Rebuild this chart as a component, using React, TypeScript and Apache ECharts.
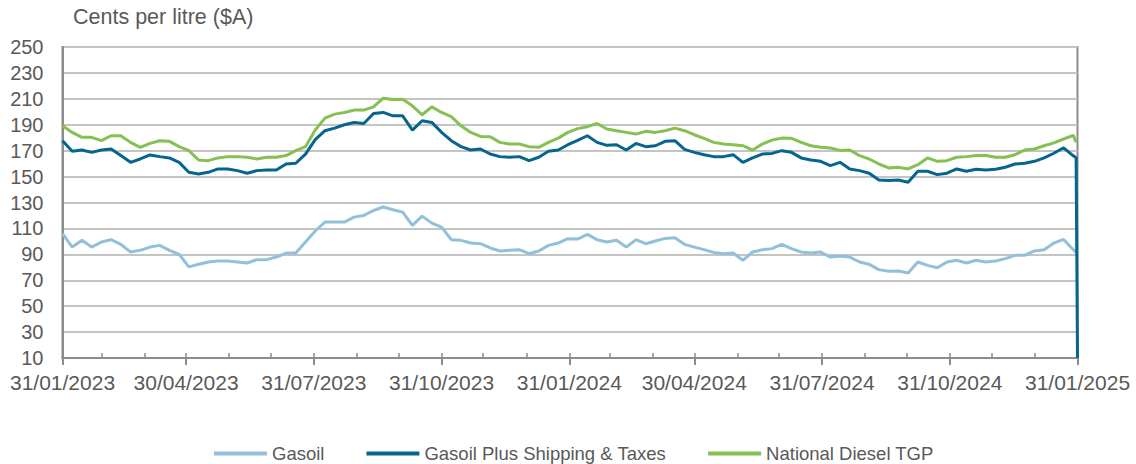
import React, { useEffect, useRef } from "react";
import * as echarts from "echarts";

// Sample dates: weekly from 31/01/2023, plus the last two days of the range
const START_DATE = "2023-01-31";
const weeklyOffsets: number[] = Array.from({ length: 105 }, (_, i) => i * 7);
const sampleDayOffsets: number[] = weeklyOffsets.concat([730, 731]);

const gasoil: (number | null)[] = [
  105.9, 95.6, 100.8, 95.6, 99.5, 101.3, 97.7, 91.8, 93.1, 95.6, 96.9, 93.1, 90, 80.3, 82.3, 84.1, 84.9, 84.9, 84.1, 83.3, 85.9, 85.9, 87.9, 91, 91, 99.5, 108,
  114.9, 114.9, 114.9, 118.7, 120, 123.8, 126.5, 124.4, 122.6, 112.3, 119.5, 114.1, 111, 101.3, 100.8, 98.7, 98.2, 94.9, 92.6, 93.1, 93.6, 90.5, 92.6, 96.9, 98.7, 102.1, 101.8,
  105.4, 101.3, 99.5, 100.8, 95.6, 101.3, 98.2, 100.3, 102.3, 102.8, 97.7, 95.6, 93.6, 91.5, 90.5, 91, 85.4, 91.8, 93.6, 94.4, 97.7, 94.4, 91.8, 91, 91.8, 87.9, 88.8,
  87.9, 84.1, 82.3, 78.2, 76.9, 77.2, 75.6, 84.1, 81.5, 79.7, 84.1, 85.4, 83.3, 85.4, 84.1, 84.9, 86.7, 89.2, 89.2, 92.6, 93.6, 98.7, 101.5, 93.6,
  91.5, null,
];

const gasoilPlus: (number | null)[] = [
  177.7, 169.5, 170.5, 168.7, 170.5, 171.3, 166.2, 161, 163.6, 166.7, 165.4, 164.4, 161, 153.3, 152, 153.3, 155.9, 155.9, 154.6, 152.6, 154.6, 155.1, 155.1, 159.7, 160.3, 167.4, 178.5,
  185.4, 187.4, 190, 191.8, 191, 198.7, 199.5, 196.9, 196.9, 185.9, 193.1, 191.8, 184.1, 177.7, 173.1, 170.5, 171.3, 167.4, 165.4, 164.9, 165.4, 162.3, 164.9, 169.5, 170.5, 174.6, 178,
  181.5, 176.4, 174.1, 174.6, 170.5, 175.6, 173.1, 173.8, 177.2, 177.7, 171, 168.7, 166.9, 165.4, 165.4, 166.9, 161, 164.4, 167.4, 167.9, 170, 168.7, 164.4, 162.8, 161.8, 158.5, 161,
  155.9, 154.6, 152.6, 147.4, 146.9, 147.4, 145.6, 154.1, 154.1, 151.5, 152.6, 155.9, 154.1, 155.6, 155.1, 155.6, 157.2, 159.7, 160.3, 161.8, 164.4, 168, 172.2, 166,
  164.5, 10,
];

const nationalDieselTgp: (number | null)[] = [
  189.2, 184.1, 180.3, 180.3, 177.7, 181.5, 181.5, 176.4, 172.6, 175.6, 177.7, 177.2, 173.1, 170, 162.8, 162.3, 164.4, 165.4, 165.4, 164.9, 163.6, 164.9, 164.9, 166.2, 170, 173.1, 186,
  195.1, 198.2, 199.5, 201.3, 201.3, 203.8, 210.5, 209.5, 209.7, 204.6, 197.7, 203.8, 199.5, 196.2, 189.2, 184.1, 181, 180.8, 176.4, 175.1, 175.1, 173.1, 172.6, 176.4, 179.7, 184.1, 187,
  188.5, 191, 186.7, 185.4, 184.1, 182.8, 184.9, 184.1, 185.4, 187.4, 185.4, 182.3, 179.5, 176.4, 175.1, 174.6, 173.8, 170.5, 175.1, 178.2, 179.7, 179.5, 176.4, 173.8, 172.6, 172.1, 170.2,
  170.5, 166.2, 163.6, 159.7, 156.7, 157.2, 155.9, 159.2, 164.4, 161.8, 162.3, 164.9, 165.4, 166.2, 166.2, 164.9, 164.9, 166.9, 170.5, 171.3, 173.8, 176, 179, 181.8,
  176.5, null,
];

const quarterLabelDates = [
  "2023-01-31", "2023-04-30", "2023-07-31", "2023-10-31", "2024-01-31",
  "2024-04-30", "2024-07-31", "2024-10-31", "2025-01-31",
];

const monthTickDates = [
  "2023-01-31", "2023-02-28", "2023-03-31", "2023-04-30", "2023-05-31", "2023-06-30",
  "2023-07-31", "2023-08-31", "2023-09-30", "2023-10-31", "2023-11-30", "2023-12-31",
  "2024-01-31", "2024-02-29", "2024-03-31", "2024-04-30", "2024-05-31", "2024-06-30",
  "2024-07-31", "2024-08-31", "2024-09-30", "2024-10-31", "2024-11-30", "2024-12-31",
  "2025-01-31",
];

const yTitle = "Cents per litre ($A)";
const seriesNames = ["Gasoil", "Gasoil Plus Shipping & Taxes", "National Diesel TGP"];
const seriesColors = ["#92C0DA", "#05658D", "#86BF52"];

const DAY_MS = 86400000;
const ts = (s: string) => Date.parse(s + "T00:00:00Z");
const START_TS = ts(START_DATE);
const END_TS = ts("2025-01-31");

const fmtDate = (v: number) => {
  const d = new Date(v);
  const dd = String(d.getUTCDate()).padStart(2, "0");
  const mm = String(d.getUTCMonth() + 1).padStart(2, "0");
  return `${dd}/${mm}/${d.getUTCFullYear()}`;
};

const FONT = "'Liberation Sans', Arial, sans-serif";
const TEXT_COLOR = "#595959";
const AXIS_COLOR = "#8C8C8C";

export default function App() {
  const ref = useRef<HTMLDivElement>(null);
  useEffect(() => {
    if (!ref.current) return;
    const chart = echarts.init(ref.current, undefined, { renderer: "svg" });
    const mk = (vals: (number | null)[]) =>
      sampleDayOffsets.map((d, i) => [START_TS + d * DAY_MS, vals[i]]);
    const allSeries = [gasoil, gasoilPlus, nationalDieselTgp];
    chart.setOption({
      animation: false,
      backgroundColor: "#ffffff",
      grid: {
        left: 62.5,
        right: 58.5,
        top: 47,
        bottom: 106,
        show: true,
        borderColor: AXIS_COLOR,
        borderWidth: 2,
        backgroundColor: "transparent",
      },
      graphic: [
        {
          type: "text",
          left: 73,
          top: 6,
          style: { text: yTitle, font: `21.5px ${FONT}`, fill: TEXT_COLOR },
        },
      ],
      legend: {
        left: 209,
        top: 439,
        itemWidth: 53,
        itemHeight: 4,
        itemGap: 42,
        icon: "rect",
        data: seriesNames,
        textStyle: { fontFamily: FONT, fontSize: 18.5, color: TEXT_COLOR },
      },
      xAxis: [
        {
          type: "value",
          min: START_TS,
          max: END_TS,
          position: "bottom",
          axisLine: { show: true, onZero: false, lineStyle: { color: AXIS_COLOR, width: 2 } },
          axisTick: {
            show: true,
            customValues: quarterLabelDates.map(ts),
            length: 7,
            lineStyle: { color: AXIS_COLOR, width: 2 },
          },
          axisLabel: {
            customValues: quarterLabelDates.map(ts),
            formatter: (v: number) => fmtDate(v),
            fontFamily: FONT,
            fontSize: 21,
            color: TEXT_COLOR,
            margin: 14,
            showMinLabel: true,
            showMaxLabel: true,
          },
          splitLine: { show: false },
        },
        {
          type: "value",
          min: START_TS,
          max: END_TS,
          position: "bottom",
          axisLine: { show: false, onZero: false },
          axisTick: {
            show: true,
            inside: true,
            customValues: monthTickDates.map(ts),
            length: 5,
            lineStyle: { color: AXIS_COLOR, width: 1.5 },
          },
          axisLabel: { show: false },
          splitLine: { show: false },
        },
      ],
      yAxis: {
        type: "value",
        min: 10,
        max: 250,
        interval: 20,
        axisLine: { show: true, lineStyle: { color: AXIS_COLOR, width: 2 } },
        axisTick: { show: false },
        axisLabel: { fontFamily: FONT, fontSize: 20, color: TEXT_COLOR, margin: 19 },
        splitLine: { show: true, lineStyle: { color: "#C4C4C4", width: 2 } },
      },
      series: allSeries.map((vals, i) => ({
        name: seriesNames[i],
        type: "line",
        xAxisIndex: 0,
        data: mk(vals),
        symbol: "none",
        showSymbol: false,
        connectNulls: false,
        lineStyle: { color: seriesColors[i], width: 3 },
        itemStyle: { color: seriesColors[i] },
        z: 3 + i,
      })),
    });
    return () => chart.dispose();
  }, []);
  return (
    <div
      ref={ref}
      style={{ position: "fixed", left: 0, top: 0, width: 1136, height: 464 }}
    />
  );
}
